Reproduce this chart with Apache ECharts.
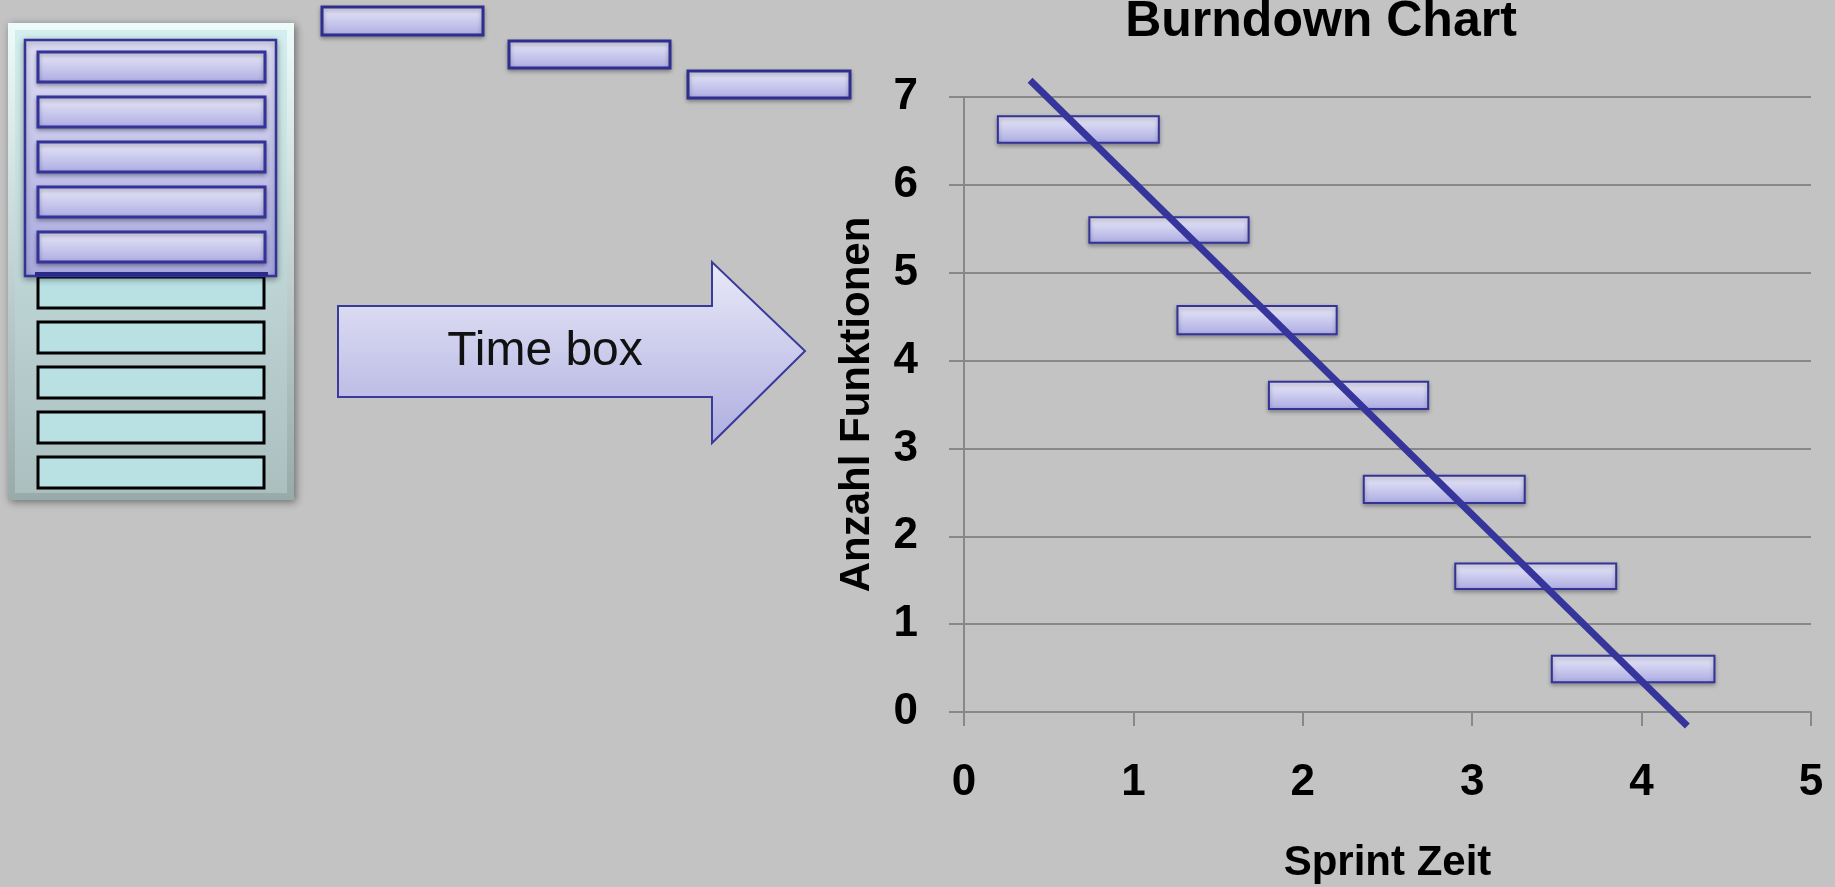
<!DOCTYPE html>
<html>
<head>
<meta charset="utf-8">
<script src="https://cdn.jsdelivr.net/npm/echarts@6/dist/echarts.min.js"></script>
<style>
html,body{margin:0;padding:0;background:#c3c3c3;}
#chart{width:1835px;height:887px;}
</style>
</head>
<body>
<div id="chart"></div>
<script>
// ---- data ----
var xTicks = [0, 1, 2, 3, 4, 5];
var yTicks = [0, 1, 2, 3, 4, 5, 6, 7];
// time boxes (sprint blocks) on the burndown chart
var boxStart  = [0.20, 0.74, 1.26, 1.80, 2.36, 2.90, 3.47];
var boxEnd    = [1.15, 1.68, 2.20, 2.74, 3.31, 3.85, 4.43];
var boxBottom = [6.48, 5.34, 4.30, 3.45, 2.38, 1.40, 0.34];
var boxTop    = [6.78, 5.63, 4.62, 3.76, 2.69, 1.69, 0.64];
// burndown trend line
var lineX = [0.39, 4.27];
var lineY = [7.19, -0.16];

var boxData = boxStart.map(function (s, i) { return [s, boxEnd[i], boxBottom[i], boxTop[i]]; });
var lineData = lineX.map(function (x, i) { return [x, lineY[i]]; });

var chart = echarts.init(document.getElementById('chart'), null, {renderer: 'canvas'});

function lavGrad() {
  return new echarts.graphic.LinearGradient(0, 0, 0, 1, [
    {offset: 0, color: '#ebebf9'},
    {offset: 1, color: '#abaae2'}
  ]);
}

var graphics = [];
// backlog container (bevel)
graphics.push({type: 'rect', shape: {x: 8, y: 23, width: 286, height: 477},
  style: {fill: new echarts.graphic.LinearGradient(0, 0, 0, 1, [
    {offset: 0, color: '#eefbfb'}, {offset: 1, color: '#98aaaa'}]),
    shadowBlur: 8, shadowColor: 'rgba(0,0,0,0.45)', shadowOffsetX: 2, shadowOffsetY: 2}});
graphics.push({type: 'rect', shape: {x: 15, y: 30, width: 272, height: 463},
  style: {fill: new echarts.graphic.LinearGradient(0, 0, 0, 1, [
    {offset: 0, color: '#d3eeee'}, {offset: 1, color: '#abbfbf'}])}});
// teal backlog items
[277, 322, 367, 412, 457].forEach(function (y) {
  graphics.push({type: 'rect', shape: {x: 38, y: y, width: 226, height: 31},
    style: {fill: '#b9e0e2', stroke: '#000', lineWidth: 3}});
});
// selected sprint container
graphics.push({type: 'rect', shape: {x: 25, y: 40, width: 251, height: 236},
  style: {fill: new echarts.graphic.LinearGradient(0, 0, 0, 1, [
    {offset: 0, color: '#dedef5'}, {offset: 1, color: '#a9a9df'}]),
    stroke: '#333399', lineWidth: 2.5,
    shadowBlur: 6, shadowColor: 'rgba(0,0,0,0.35)', shadowOffsetY: 2}});
graphics.push({type: 'line', shape: {x1: 35, y1: 274, x2: 268, y2: 274},
  style: {stroke: '#2a2a8a', lineWidth: 4}});
[52, 97, 142, 187, 232].forEach(function (y) {
  graphics.push({type: 'rect', shape: {x: 38, y: y, width: 227, height: 30},
    style: {fill: lavGrad(), stroke: '#333399', lineWidth: 3,
      shadowBlur: 4, shadowColor: 'rgba(0,0,0,0.3)', shadowOffsetY: 2}});
});
// floating boxes at top
[[322, 7, 161, 28], [509, 41, 161, 27], [688, 71, 162, 27]].forEach(function (b) {
  graphics.push({type: 'rect', shape: {x: b[0], y: b[1], width: b[2], height: b[3]},
    style: {fill: lavGrad(), stroke: '#2e2e90', lineWidth: 3,
      shadowBlur: 4, shadowColor: 'rgba(0,0,0,0.3)', shadowOffsetY: 2}});
});
// arrow
graphics.push({type: 'polygon', shape: {points: [[338, 306], [712, 306], [712, 262], [805, 351], [712, 443], [712, 397], [338, 397]]},
  style: {fill: new echarts.graphic.LinearGradient(0, 0, 0, 1, [
    {offset: 0, color: '#e9e9f8'}, {offset: 1, color: '#aeaee0'}]),
    stroke: '#3a3a9a', lineWidth: 2}});
graphics.push({type: 'text', x: 545, y: 352,
  style: {text: 'Time box', font: '48px "Liberation Sans", Arial, sans-serif', fill: '#111',
    align: 'center', verticalAlign: 'middle'}});

var option = {
  backgroundColor: '#c3c3c3',
  animation: false,
  title: {
    text: 'Burndown Chart',
    left: 1321, top: -3, textAlign: 'center', padding: 0,
    textStyle: {fontFamily: '"Liberation Sans", Arial, sans-serif', fontWeight: 'bold', fontSize: 50, color: '#000'}
  },
  graphic: graphics,
  grid: {left: 964, right: 24, top: 97, bottom: 175, containLabel: false, outerBoundsMode: 'none'},
  xAxis: {
    type: 'value', min: 0, max: 5, interval: 1,
    name: 'Sprint Zeit', nameLocation: 'middle', nameGap: 130,
    nameTextStyle: {fontFamily: '"Liberation Sans", Arial, sans-serif', fontWeight: 'bold', fontSize: 42, color: '#000'},
    axisLine: {show: true, lineStyle: {color: '#888', width: 2}},
    axisTick: {show: true, length: 14, lineStyle: {color: '#888', width: 2}},
    splitLine: {show: false},
    axisLabel: {margin: 49, fontFamily: '"Liberation Sans", Arial, sans-serif', fontWeight: 'bold', fontSize: 44, color: '#000',
      formatter: function (v) { return xTicks.indexOf(v) >= 0 ? String(v) : ''; }}
  },
  yAxis: {
    type: 'value', min: 0, max: 7, interval: 1,
    name: 'Anzahl Funktionen', nameLocation: 'middle', nameRotate: 90, nameGap: 86,
    nameTextStyle: {fontFamily: '"Liberation Sans", Arial, sans-serif', fontWeight: 'bold', fontSize: 42, color: '#000'},
    axisLine: {show: true, lineStyle: {color: '#888', width: 2}},
    axisTick: {show: true, length: 15, lineStyle: {color: '#888', width: 2}},
    splitLine: {show: true, lineStyle: {color: '#888', width: 2}},
    axisLabel: {margin: 46, fontFamily: '"Liberation Sans", Arial, sans-serif', fontWeight: 'bold', fontSize: 44, color: '#000',
      formatter: function (v) { return yTicks.indexOf(v) >= 0 ? String(v) : ''; }}
  },
  series: [
    {
      type: 'custom',
      name: 'Time boxes',
      data: boxData,
      z: 2,
      clip: false,
      renderItem: function (params, api) {
        var p0 = api.coord([api.value(0), api.value(3)]);
        var p1 = api.coord([api.value(1), api.value(2)]);
        return {
          type: 'rect',
          shape: {x: p0[0], y: p0[1], width: p1[0] - p0[0], height: p1[1] - p0[1]},
          style: {fill: lavGrad(), stroke: '#333399', lineWidth: 2,
            shadowBlur: 4, shadowColor: 'rgba(0,0,0,0.3)', shadowOffsetY: 2}
        };
      }
    },
    {
      type: 'line',
      name: 'Burndown',
      data: lineData,
      z: 3,
      clip: false,
      symbol: 'none',
      lineStyle: {color: '#35359b', width: 7}
    }
  ]
};
chart.setOption(option);
</script>
</body>
</html>
